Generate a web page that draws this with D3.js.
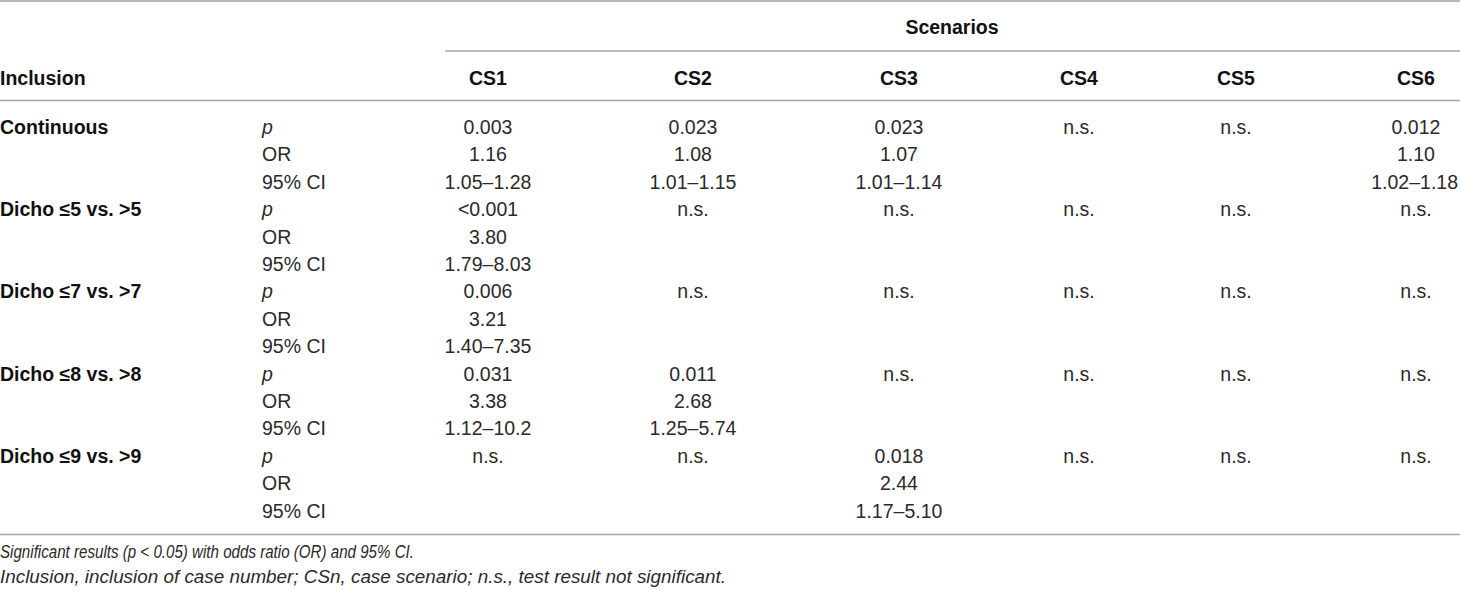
<!DOCTYPE html>
<html>
<head>
<meta charset="utf-8">
<script src="https://cdn.jsdelivr.net/npm/d3@7"></script>
<style>
  body { margin: 0; background: #fff; }
  svg { display: block; font-family: "Liberation Sans", Arial, Helvetica, sans-serif; }
</style>
</head>
<body>
<svg id="chart" width="1460" height="591"></svg>
<script>
// table content
const groups = ["Continuous", "Dicho \u22645 vs. >5", "Dicho \u22647 vs. >7", "Dicho \u22648 vs. >8", "Dicho \u22649 vs. >9"];
const stats = ["p", "OR", "95% CI"];
const scenarios = ["CS1", "CS2", "CS3", "CS4", "CS5", "CS6"];

const pValues = [
    ["0.003", "0.023", "0.023", "n.s.", "n.s.", "0.012"],
    ["<0.001", "n.s.", "n.s.", "n.s.", "n.s.", "n.s."],
    ["0.006", "n.s.", "n.s.", "n.s.", "n.s.", "n.s."],
    ["0.031", "0.011", "n.s.", "n.s.", "n.s.", "n.s."],
    ["n.s.", "n.s.", "0.018", "n.s.", "n.s.", "n.s."]
];
const orValues = [
    ["1.16", "1.08", "1.07", "", "", "1.10"],
    ["3.80", "", "", "", "", ""],
    ["3.21", "", "", "", "", ""],
    ["3.38", "2.68", "", "", "", ""],
    ["", "", "2.44", "", "", ""]
];
const ciValues = [
    ["1.05\u20131.28", "1.01\u20131.15", "1.01\u20131.14", "", "", "1.02\u20131.18"],
    ["1.79\u20138.03", "", "", "", "", ""],
    ["1.40\u20137.35", "", "", "", "", ""],
    ["1.12\u201310.2", "1.25\u20135.74", "", "", "", ""],
    ["", "", "1.17\u20135.10", "", "", ""]
];
const footnotes = [
    "Significant results (p < 0.05) with odds ratio (OR) and 95% CI.",
    "Inclusion, inclusion of case number; CSn, case scenario; n.s., test result not significant."
];

const width = 1460;
const svg = d3.select("#chart");
const fontSize = 19.5;
const lineColor = "#a3a3a3";
const textColor = "#2a2a2a";

// column centres (content-sized columns)
const x = d3.scaleOrdinal(scenarios, [488, 693, 899, 1079, 1236, 1416]);
const rightLimit = 1458;
const statX = 262;

// body rows
const rows = [];
groups.forEach((g, gi) => {
    stats.forEach((s, si) => {
        const src = si === 0 ? pValues : si === 1 ? orValues : ciValues;
        rows.push({ group: si === 0 ? g : "", stat: s, values: src[gi] });
    });
});
const y = d3.scaleLinear().domain([0, 1]).range([127, 154.4]);

// rules
const rules = [
    { x1: 0, x2: width, y: 1 },
    { x1: 445, x2: width, y: 51 },
    { x1: 0, x2: width, y: 100.5 },
    { x1: 0, x2: width, y: 534.5 }
];
svg.selectAll(".rule")
    .data(rules)
    .enter()
    .append("line")
    .attr("class", "rule")
    .attr("x1", d => d.x1)
    .attr("x2", d => d.x2)
    .attr("y1", d => d.y)
    .attr("y2", d => d.y)
    .attr("stroke", lineColor)
    .attr("stroke-width", 1.6);

// header
svg.append("text")
    .attr("x", 952)
    .attr("y", 27)
    .attr("dy", "0.36em")
    .attr("text-anchor", "middle")
    .attr("font-size", fontSize)
    .attr("font-weight", "bold")
    .attr("fill", "#111")
    .text("Scenarios");

svg.append("text")
    .attr("x", 0)
    .attr("y", 78)
    .attr("dy", "0.36em")
    .attr("font-size", fontSize)
    .attr("font-weight", "bold")
    .attr("fill", "#111")
    .text("Inclusion");

svg.selectAll(".colhead")
    .data(scenarios)
    .enter()
    .append("text")
    .attr("class", "colhead")
    .attr("x", d => x(d))
    .attr("y", 78)
    .attr("dy", "0.36em")
    .attr("text-anchor", "middle")
    .attr("font-size", fontSize)
    .attr("font-weight", "bold")
    .attr("fill", "#111")
    .text(d => d);

// body
const row = svg.selectAll(".row")
    .data(rows)
    .enter()
    .append("g")
    .attr("class", "row")
    .attr("transform", (d, i) => `translate(0,${y(i)})`);

row.append("text")
    .attr("x", 0)
    .attr("dy", "0.36em")
    .attr("font-size", fontSize)
    .attr("font-weight", "bold")
    .attr("fill", "#111")
    .text(d => d.group);

row.append("text")
    .attr("x", statX)
    .attr("dy", "0.36em")
    .attr("font-size", fontSize)
    .attr("font-style", d => d.stat === "p" ? "italic" : "normal")
    .attr("fill", textColor)
    .text(d => d.stat);

row.selectAll(".cell")
    .data(d => d.values.map((v, j) => ({ v, col: scenarios[j] })))
    .enter()
    .append("text")
    .attr("class", "cell")
    .attr("x", d => x(d.col))
    .attr("dy", "0.36em")
    .attr("text-anchor", "middle")
    .attr("font-size", fontSize)
    .attr("fill", textColor)
    .text(d => d.v)
    .each(function () {
        // keep wide entries inside the table edge
        const w = this.getComputedTextLength();
        const cx = +this.getAttribute("x");
        if (cx + w / 2 > rightLimit) this.setAttribute("x", rightLimit - w / 2);
    });

// footnotes (condensed italic)
const noteWidths = [414, 726];
svg.selectAll(".note")
    .data(footnotes)
    .enter()
    .append("text")
    .attr("class", "note")
    .attr("x", 0)
    .attr("y", (d, i) => 551 + i * 25)
    .attr("dy", "0.36em")
    .attr("font-family", "'Liberation Sans Narrow', 'Liberation Sans', Arial, sans-serif")
    .attr("font-size", 19)
    .attr("font-style", "italic")
    .attr("fill", textColor)
    .attr("textLength", (d, i) => noteWidths[i])
    .attr("lengthAdjust", "spacingAndGlyphs")
    .text(d => d);
</script>
</body>
</html>
